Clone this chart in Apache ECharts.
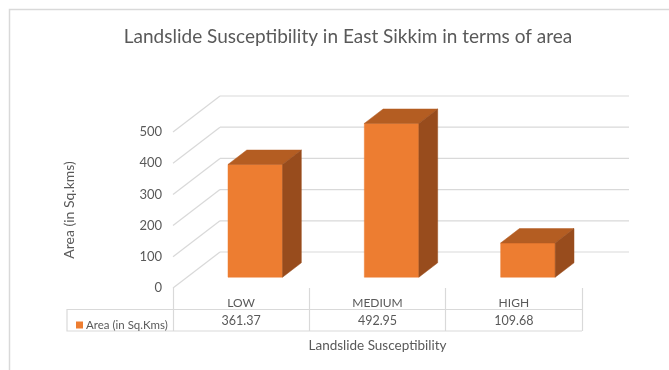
<!DOCTYPE html>
<html>
<head>
<meta charset="utf-8">
<script src="https://cdn.jsdelivr.net/npm/echarts@6/dist/echarts.min.js"></script>
<style>
  html, body { margin: 0; padding: 0; background: #fff; }
  #chart { width: 669px; height: 370px; }
</style>
</head>
<body>
<div id="chart"></div>
<script>
// data
var categories = ['LOW', 'MEDIUM', 'HIGH'];
var areaValues = [361.37, 492.95, 109.68];
var yTicks = [0, 100, 200, 300, 400, 500];
var seriesName = 'Area (in Sq.Kms)';

var FONT = 'Lato';
var TEXT = '#595959';
var GRID_LINE = '#d9d9d9';
var DEPTH_X = 47, DEPTH_Y = -36;   // floor depth, front -> back wall

var chart = echarts.init(document.getElementById('chart'));

// back wall + side wall gridlines
function renderWall(params, api) {
    var cs = params.coordSys;
    var y = api.coord([0, api.value(1)])[1];
    var left = cs.x, right = cs.x + cs.width;
    var style = { stroke: GRID_LINE, lineWidth: 1.2 };
    return {
        type: 'group',
        children: [
            { type: 'line', shape: { x1: left, y1: y, x2: left + DEPTH_X, y2: y + DEPTH_Y }, style: style },
            { type: 'line', shape: { x1: left + DEPTH_X, y1: y + DEPTH_Y, x2: right + DEPTH_X, y2: y + DEPTH_Y }, style: style }
        ]
    };
}

// 3d-ish column
function renderBar(params, api) {
    var base = api.coord([api.value(0), 0]);
    var top = api.coord([api.value(0), api.value(1)]);
    var w = api.size([1, 0])[0] * 0.4;
    var ox = DEPTH_X * 0.3, oy = DEPTH_Y * 0.3;     // bar sits in middle of the floor
    var dx = DEPTH_X * 0.4, dy = DEPTH_Y * 0.4;     // bar depth
    var x0 = base[0] + ox - w / 2, x1 = x0 + w;
    var yb = base[1] + oy, yt = top[1] + oy;
    return {
        type: 'group',
        children: [
            { type: 'rect', shape: { x: x0, y: yt, width: w, height: yb - yt },
              style: { fill: '#ED7D31', stroke: '#ED7D31', lineWidth: 0.5 } },
            { type: 'polygon', shape: { points: [[x0, yt], [x1, yt], [x1 + dx, yt + dy], [x0 + dx, yt + dy]] },
              style: { fill: '#B45D22', stroke: '#B45D22', lineWidth: 0.5 } },
            { type: 'polygon', shape: { points: [[x1, yt], [x1, yb], [x1 + dx, yb + dy], [x1 + dx, yt + dy]] },
              style: { fill: '#984C1D', stroke: '#984C1D', lineWidth: 0.5 } }
        ]
    };
}

// values row of the data table
function renderTableRow(params, api) {
    var p = api.coord([api.value(0), 0]);
    return {
        type: 'text',
        style: {
            x: p[0], y: p[1] + 33, text: areaValues[params.dataIndex].toFixed(2),
            align: 'center', verticalAlign: 'middle',
            fill: TEXT, font: '12.5px ' + FONT
        }
    };
}

var option = {
    backgroundColor: '#fff',
    title: {
        text: 'Landslide Susceptibility in East Sikkim in terms of area',
        left: 343,
        textAlign: 'center',
        top: 22,
        textStyle: { fontFamily: FONT, fontSize: 19, fontWeight: 'normal', color: TEXT }
    },
    legend: {
        data: [{ name: seriesName, icon: 'rect' }],
        left: 71,
        top: 314,
        itemWidth: 7,
        itemHeight: 7,
        itemGap: 4,
        selectedMode: false,
        textStyle: { fontFamily: FONT, fontSize: 11.5, color: TEXT, padding: [0, 0, 0, -2] }
    },
    grid: { left: 173, right: 87, top: 132, bottom: 82 },
    xAxis: {
        type: 'category',
        data: categories,
        axisLine: { show: false },
        axisTick: { show: true, length: 43, lineStyle: { color: GRID_LINE, width: 1.2 } },
        axisLabel: { margin: 9, fontFamily: FONT, fontSize: 12, color: TEXT },
        name: 'Landslide Susceptibility',
        nameLocation: 'middle',
        nameGap: 51,
        nameTextStyle: { fontFamily: FONT, fontSize: 13.5, color: TEXT }
    },
    yAxis: {
        type: 'value',
        min: 0,
        max: 500,
        interval: 100,
        splitLine: { show: false },
        axisLine: { show: false },
        axisTick: { show: false },
        axisLabel: { margin: 11, fontFamily: FONT, fontSize: 13, color: TEXT },
        name: 'Area (in Sq.kms)',
        nameLocation: 'middle',
        nameGap: 97,
        nameTextStyle: { fontFamily: FONT, fontSize: 14, color: TEXT }
    },
    graphic: [
        { type: 'rect', silent: true, shape: { x: 9.5, y: 9.5, width: 700, height: 400 },
          style: { fill: 'none', stroke: '#d9d9d9', lineWidth: 1.5 } },
        // data table frame
        { type: 'polyline', silent: true, shape: { points: [[582, 309.5], [67, 309.5], [67, 331], [582, 331]] },
          style: { fill: 'none', stroke: GRID_LINE, lineWidth: 1.2 } }
    ],
    series: [
        {
            type: 'custom',
            name: 'wall',
            silent: true,
            z: 1,
            renderItem: renderWall,
            encode: { x: 0, y: 1 },
            data: yTicks.map(function (v) { return [0, v]; })
        },
        {
            type: 'custom',
            name: seriesName,
            z: 3,
            itemStyle: { color: '#ED7D31' },
            renderItem: renderBar,
            encode: { x: 0, y: 1 },
            data: areaValues.map(function (v, i) { return [i, v]; })
        },
        {
            type: 'custom',
            name: 'table',
            silent: true,
            z: 3,
            renderItem: renderTableRow,
            encode: { x: 0, y: 1 },
            data: areaValues.map(function (v, i) { return [i, 0]; })
        }
    ]
};
chart.setOption(option);
</script>
</body>
</html>
